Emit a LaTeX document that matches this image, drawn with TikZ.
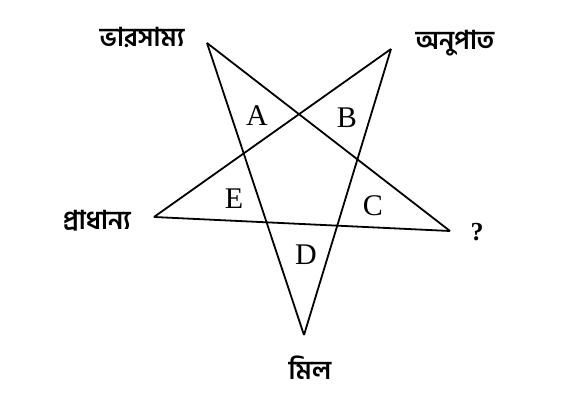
\documentclass[tikz,border=0pt]{standalone}
\usepackage{fontspec}
\setmainfont{Liberation Serif}
\newfontfamily\bnfont[Script=Bengali]{Hind Siliguri}
\begin{document}
\begin{tikzpicture}[x=1pt,y=-1pt,
  edge/.style={line width=1.8pt,black},
  bnlabel/.style={font=\bnfont\bfseries\fontsize{26}{28}\selectfont,inner sep=0pt},
  letter/.style={font=\fontsize{30}{32}\selectfont,inner sep=0pt}]
\useasboundingbox (0,0) rectangle (582,403);
\coordinate (tl) at (207,43);
\coordinate (tr) at (391,49);
\coordinate (lf) at (154,217);
\coordinate (rt) at (450,231);
\coordinate (bt) at (304,335);
\draw[edge] (tl) -- (bt);
\draw[edge] (tl) -- (rt);
\draw[edge] (tr) -- (lf);
\draw[edge] (tr) -- (bt);
\draw[edge] (lf) -- (rt);
\node[bnlabel] (l1) at (142,37) {ভারসাম্য};
\node[bnlabel] (l2) at (455,43) {অনুপাত};
\node[bnlabel] (l3) at (97,221) {প্রাধান্য};
\node[bnlabel] (l4) at (310,368) {মিল};
\node[font=\bfseries\fontsize{26}{28}\selectfont,inner sep=0pt] (q) at (477,232) {?};
\node[letter] (A) at (257,116) {A};
\node[letter] (B) at (347,118) {B};
\node[letter] (E) at (234,199) {E};
\node[letter] (C) at (373,206) {C};
\node[letter] (D) at (306,255) {D};
\end{tikzpicture}
\end{document}
